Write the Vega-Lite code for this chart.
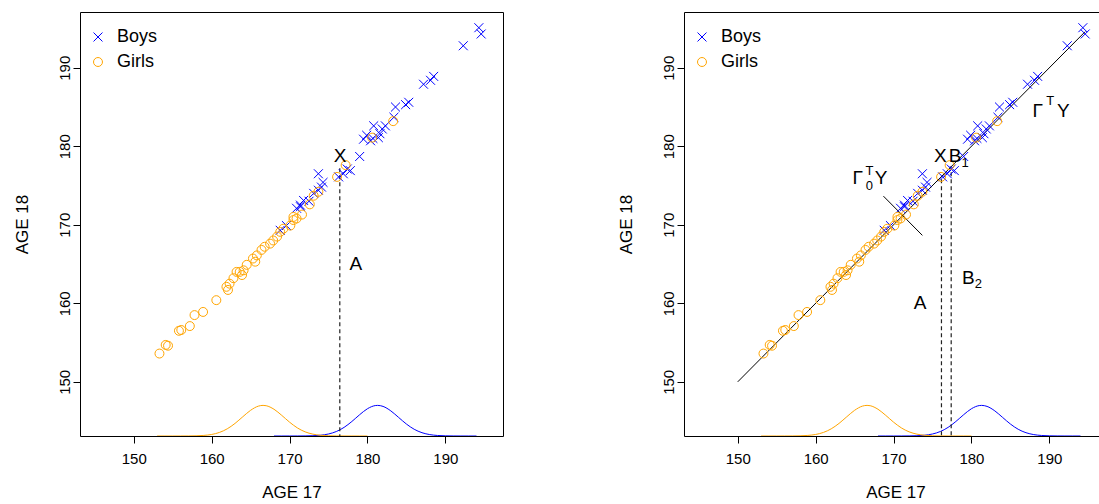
{
  "$schema": "https://vega.github.io/schema/vega-lite/v6.json",
  "background": "white",
  "padding": {"left": 12, "top": 11, "right": 0, "bottom": 0},
  "config": {
    "font": "Liberation Sans",
    "view": {"stroke": "black", "strokeWidth": 1},
    "axis": {"grid": false, "domain": false, "tickColor": "black", "tickSize": 7, "tickWidth": 1,
      "labelFont": "Liberation Sans", "labelFontSize": 15, "labelColor": "black",
      "titleFont": "Liberation Sans", "titleFontSize": 17, "titleFontWeight": "normal", "titleColor": "black"},
    "axisX": {"labelPadding": 8, "titlePadding": 18},
    "axisY": {"labelAngle": -90, "labelAlign": "center", "labelBaseline": "alphabetic", "labelPadding": 4, "titlePadding": 26},
    "legend": {"orient": "none", "legendX": 9, "legendY": 16, "title": null, "labelFont": "Liberation Sans", "labelFontSize": 18, "labelColor": "black",
      "symbolSize": 80, "symbolStrokeWidth": 1, "rowPadding": 7, "labelOffset": 10, "padding": 0}
  },
  "datasets": {
    "pts": [
      {"x": 194.3, "y": 195.1, "sex": "Boys"}, {"x": 194.6, "y": 194.3, "sex": "Boys"}, {"x": 192.3, "y": 192.8, "sex": "Boys"},
      {"x": 188.5, "y": 188.9, "sex": "Boys"}, {"x": 188.1, "y": 188.4, "sex": "Boys"}, {"x": 187.2, "y": 187.9, "sex": "Boys"},
      {"x": 185.3, "y": 185.6, "sex": "Boys"}, {"x": 184.9, "y": 185.3, "sex": "Boys"}, {"x": 183.6, "y": 185.0, "sex": "Boys"},
      {"x": 183.4, "y": 183.7, "sex": "Boys"}, {"x": 182.3, "y": 182.6, "sex": "Boys"}, {"x": 181.9, "y": 182.2, "sex": "Boys"},
      {"x": 180.8, "y": 182.6, "sex": "Boys"}, {"x": 181.6, "y": 181.6, "sex": "Boys"}, {"x": 181.4, "y": 181.1, "sex": "Boys"},
      {"x": 180.4, "y": 180.7, "sex": "Boys"}, {"x": 179.9, "y": 181.4, "sex": "Boys"}, {"x": 179.5, "y": 180.9, "sex": "Boys"},
      {"x": 180.7, "y": 181.0, "sex": "Boys"}, {"x": 179.0, "y": 178.7, "sex": "Boys"}, {"x": 177.4, "y": 177.1, "sex": "Boys"},
      {"x": 177.8, "y": 176.9, "sex": "Boys"}, {"x": 176.9, "y": 176.5, "sex": "Boys"}, {"x": 176.3, "y": 176.1, "sex": "Boys"},
      {"x": 173.7, "y": 176.5, "sex": "Boys"}, {"x": 174.3, "y": 175.4, "sex": "Boys"}, {"x": 174.1, "y": 174.8, "sex": "Boys"},
      {"x": 173.7, "y": 174.4, "sex": "Boys"}, {"x": 173.1, "y": 174.0, "sex": "Boys"}, {"x": 172.5, "y": 173.0, "sex": "Boys"},
      {"x": 171.8, "y": 173.1, "sex": "Boys"}, {"x": 171.4, "y": 172.5, "sex": "Boys"}, {"x": 170.9, "y": 172.1, "sex": "Boys"},
      {"x": 171.4, "y": 172.3, "sex": "Boys"}, {"x": 169.6, "y": 169.9, "sex": "Boys"}, {"x": 168.8, "y": 169.3, "sex": "Boys"},
      {"x": 183.3, "y": 183.2, "sex": "Girls"}, {"x": 180.6, "y": 181.1, "sex": "Girls"}, {"x": 177.2, "y": 177.6, "sex": "Girls"},
      {"x": 176.1, "y": 176.1, "sex": "Girls"}, {"x": 173.7, "y": 174.2, "sex": "Girls"}, {"x": 173.1, "y": 173.7, "sex": "Girls"},
      {"x": 172.6, "y": 172.6, "sex": "Girls"}, {"x": 171.6, "y": 171.3, "sex": "Girls"}, {"x": 170.5, "y": 171.0, "sex": "Girls"},
      {"x": 170.9, "y": 170.8, "sex": "Girls"}, {"x": 170.5, "y": 170.6, "sex": "Girls"}, {"x": 170.1, "y": 169.9, "sex": "Girls"},
      {"x": 169.2, "y": 169.5, "sex": "Girls"}, {"x": 168.8, "y": 169.1, "sex": "Girls"}, {"x": 168.4, "y": 168.5, "sex": "Girls"},
      {"x": 167.9, "y": 168.0, "sex": "Girls"}, {"x": 167.5, "y": 167.6, "sex": "Girls"}, {"x": 166.8, "y": 167.2, "sex": "Girls"},
      {"x": 166.4, "y": 166.8, "sex": "Girls"}, {"x": 165.8, "y": 166.1, "sex": "Girls"}, {"x": 165.3, "y": 165.7, "sex": "Girls"},
      {"x": 165.6, "y": 165.3, "sex": "Girls"}, {"x": 164.5, "y": 164.9, "sex": "Girls"}, {"x": 164.1, "y": 164.2, "sex": "Girls"},
      {"x": 163.6, "y": 164.0, "sex": "Girls"}, {"x": 163.2, "y": 164.0, "sex": "Girls"}, {"x": 163.9, "y": 163.6, "sex": "Girls"},
      {"x": 162.8, "y": 163.2, "sex": "Girls"}, {"x": 162.3, "y": 162.5, "sex": "Girls"}, {"x": 161.9, "y": 162.1, "sex": "Girls"},
      {"x": 162.1, "y": 161.7, "sex": "Girls"}, {"x": 160.6, "y": 160.4, "sex": "Girls"}, {"x": 158.9, "y": 158.9, "sex": "Girls"},
      {"x": 157.8, "y": 158.5, "sex": "Girls"}, {"x": 157.2, "y": 157.1, "sex": "Girls"}, {"x": 156.1, "y": 156.6, "sex": "Girls"},
      {"x": 155.8, "y": 156.5, "sex": "Girls"}, {"x": 154.4, "y": 154.6, "sex": "Girls"}, {"x": 154.1, "y": 154.7, "sex": "Girls"},
      {"x": 153.3, "y": 153.6, "sex": "Girls"}
    ],
    "dens": [
      {"x": 153, "y": 143.1, "sex": "Girls"}, {"x": 154, "y": 143.1, "sex": "Girls"}, {"x": 155, "y": 143.1, "sex": "Girls"},
      {"x": 156, "y": 143.102, "sex": "Girls"}, {"x": 157, "y": 143.107, "sex": "Girls"}, {"x": 158, "y": 143.125, "sex": "Girls"},
      {"x": 159, "y": 143.174, "sex": "Girls"}, {"x": 160, "y": 143.296, "sex": "Girls"}, {"x": 161, "y": 143.554, "sex": "Girls"},
      {"x": 162, "y": 144.014, "sex": "Girls"}, {"x": 163, "y": 144.703, "sex": "Girls"}, {"x": 164, "y": 145.553, "sex": "Girls"},
      {"x": 165, "y": 146.372, "sex": "Girls"}, {"x": 166, "y": 146.905, "sex": "Girls"}, {"x": 166.6, "y": 147.0, "sex": "Girls"},
      {"x": 167, "y": 146.957, "sex": "Girls"}, {"x": 168, "y": 146.509, "sex": "Girls"}, {"x": 169, "y": 145.728, "sex": "Girls"},
      {"x": 170, "y": 144.865, "sex": "Girls"}, {"x": 171, "y": 144.134, "sex": "Girls"}, {"x": 172, "y": 143.628, "sex": "Girls"},
      {"x": 173, "y": 143.335, "sex": "Girls"}, {"x": 174, "y": 143.191, "sex": "Girls"}, {"x": 175, "y": 143.131, "sex": "Girls"},
      {"x": 176, "y": 143.109, "sex": "Girls"}, {"x": 177, "y": 143.102, "sex": "Girls"}, {"x": 178, "y": 143.1, "sex": "Girls"},
      {"x": 179, "y": 143.1, "sex": "Girls"}, {"x": 180, "y": 143.1, "sex": "Girls"},
      {"x": 168, "y": 143.1, "sex": "Boys"}, {"x": 169, "y": 143.1, "sex": "Boys"}, {"x": 170, "y": 143.101, "sex": "Boys"},
      {"x": 171, "y": 143.103, "sex": "Boys"}, {"x": 172, "y": 143.11, "sex": "Boys"}, {"x": 173, "y": 143.135, "sex": "Boys"},
      {"x": 174, "y": 143.201, "sex": "Boys"}, {"x": 175, "y": 143.356, "sex": "Boys"}, {"x": 176, "y": 143.668, "sex": "Boys"},
      {"x": 177, "y": 144.197, "sex": "Boys"}, {"x": 178, "y": 144.948, "sex": "Boys"}, {"x": 179, "y": 145.813, "sex": "Boys"},
      {"x": 180, "y": 146.573, "sex": "Boys"}, {"x": 181, "y": 146.976, "sex": "Boys"}, {"x": 181.3, "y": 147.0, "sex": "Boys"},
      {"x": 182, "y": 146.871, "sex": "Boys"}, {"x": 183, "y": 146.298, "sex": "Boys"}, {"x": 184, "y": 145.465, "sex": "Boys"},
      {"x": 185, "y": 144.625, "sex": "Boys"}, {"x": 186, "y": 143.957, "sex": "Boys"}, {"x": 187, "y": 143.52, "sex": "Boys"},
      {"x": 188, "y": 143.279, "sex": "Boys"}, {"x": 189, "y": 143.167, "sex": "Boys"}, {"x": 190, "y": 143.122, "sex": "Boys"},
      {"x": 191, "y": 143.106, "sex": "Boys"}, {"x": 192, "y": 143.101, "sex": "Boys"}, {"x": 193, "y": 143.1, "sex": "Boys"},
      {"x": 194, "y": 143.1, "sex": "Boys"}
    ],
    "leftRule": [{"x": 176.45, "y": 177.2, "y2": 143.1}],
    "leftText": [{"x": 176.5, "y": 178.8, "t": "X"}, {"x": 178.5, "y": 165.0, "t": "A"}],
    "rightRule": [{"x": 176.15, "y": 175.8, "y2": 143.1}, {"x": 177.4, "y": 176.7, "y2": 143.1}],
    "rightLines": [{"x": 150, "y": 150, "x2": 194.6, "y2": 194.6}, {"x": 168.7, "y": 173.65, "x2": 173.7, "y2": 168.65}],
    "rightText": [
      {"x": 176.0, "y": 178.7, "t": "X"}, {"x": 177.9, "y": 178.7, "t": "B"},
      {"x": 188.5, "y": 184.5, "t": "Γ"}, {"x": 191.8, "y": 184.5, "t": "Y"},
      {"x": 165.4, "y": 175.9, "t": "Γ"}, {"x": 168.4, "y": 175.9, "t": "Y"},
      {"x": 173.4, "y": 160.0, "t": "A"}, {"x": 179.6, "y": 163.2, "t": "B"}
    ],
    "rightSmall": [
      {"x": 179.2, "y": 177.9, "t": "1"}, {"x": 190.1, "y": 185.8, "t": "T"},
      {"x": 166.9, "y": 176.8, "t": "T"}, {"x": 166.9, "y": 175.0, "t": "0"},
      {"x": 180.9, "y": 162.5, "t": "2"}
    ]
  },
  "resolve": {"scale": {"color": "independent", "shape": "independent"}, "legend": {"color": "independent", "shape": "independent"}},
  "spacing": 112,
  "hconcat": [
    {
      "width": 423, "height": 424,
      "encoding": {
        "x": {"field": "x", "type": "quantitative", "title": "AGE 17", "scale": {"domain": [143.1, 197.4], "nice": false, "zero": false}, "axis": {"values": [150, 160, 170, 180, 190]}},
        "y": {"field": "y", "type": "quantitative", "title": "AGE 18", "scale": {"domain": [143.1, 197.1], "nice": false, "zero": false}, "axis": {"values": [150, 160, 170, 180, 190]}}
      },
      "layer": [
        {"data": {"name": "dens"}, "transform": [{"filter": "datum.sex == 'Boys'"}], "mark": {"type": "line", "color": "#0000FF", "strokeWidth": 1, "interpolate": "monotone", "clip": true}, "encoding": {}},
        {"data": {"name": "dens"}, "transform": [{"filter": "datum.sex == 'Girls'"}], "mark": {"type": "line", "color": "#FFA500", "strokeWidth": 1, "interpolate": "monotone", "clip": true}, "encoding": {}},
        {"data": {"name": "leftRule"}, "mark": {"type": "rule", "color": "#222222", "strokeWidth": 1.2, "strokeDash": [4, 3]}, "encoding": {"y2": {"field": "y2"}}},
        {"data": {"name": "pts"}, "mark": {"type": "point", "filled": false, "strokeWidth": 1, "size": 80, "opacity": 1},
          "encoding": {
            "color": {"field": "sex", "type": "nominal", "scale": {"domain": ["Boys", "Girls"], "range": ["#0000FF", "#FFA500"]}},
            "shape": {"field": "sex", "type": "nominal", "scale": {"domain": ["Boys", "Girls"], "range": ["M-1,-1L1,1M-1,1L1,-1", "circle"]}}
          }},
        {"data": {"name": "leftText"}, "mark": {"type": "text", "font": "Liberation Sans", "fontSize": 19, "color": "black", "align": "center", "baseline": "middle"}, "encoding": {"text": {"field": "t"}}}
      ]
    },
    {
      "width": 423, "height": 424,
      "encoding": {
        "x": {"field": "x", "type": "quantitative", "title": "AGE 17", "scale": {"domain": [143.1, 197.4], "nice": false, "zero": false}, "axis": {"values": [150, 160, 170, 180, 190]}},
        "y": {"field": "y", "type": "quantitative", "title": "AGE 18", "scale": {"domain": [143.1, 197.1], "nice": false, "zero": false}, "axis": {"values": [150, 160, 170, 180, 190]}}
      },
      "layer": [
        {"data": {"name": "dens"}, "transform": [{"filter": "datum.sex == 'Boys'"}], "mark": {"type": "line", "color": "#0000FF", "strokeWidth": 1, "interpolate": "monotone", "clip": true}, "encoding": {}},
        {"data": {"name": "dens"}, "transform": [{"filter": "datum.sex == 'Girls'"}], "mark": {"type": "line", "color": "#FFA500", "strokeWidth": 1, "interpolate": "monotone", "clip": true}, "encoding": {}},
        {"data": {"name": "rightRule"}, "mark": {"type": "rule", "color": "#222222", "strokeWidth": 1.2, "strokeDash": [4, 3]}, "encoding": {"y2": {"field": "y2"}}},
        {"data": {"name": "rightLines"}, "mark": {"type": "rule", "color": "black", "strokeWidth": 1}, "encoding": {"x2": {"field": "x2"}, "y2": {"field": "y2"}}},
        {"data": {"name": "pts"}, "mark": {"type": "point", "filled": false, "strokeWidth": 1, "size": 80, "opacity": 1},
          "encoding": {
            "color": {"field": "sex", "type": "nominal", "scale": {"domain": ["Boys", "Girls"], "range": ["#0000FF", "#FFA500"]}},
            "shape": {"field": "sex", "type": "nominal", "scale": {"domain": ["Boys", "Girls"], "range": ["M-1,-1L1,1M-1,1L1,-1", "circle"]}}
          }},
        {"data": {"name": "rightText"}, "mark": {"type": "text", "font": "Liberation Sans", "fontSize": 19, "color": "black", "align": "center", "baseline": "middle"}, "encoding": {"text": {"field": "t"}}},
        {"data": {"name": "rightSmall"}, "mark": {"type": "text", "font": "Liberation Sans", "fontSize": 13, "color": "black", "align": "center", "baseline": "middle"}, "encoding": {"text": {"field": "t"}}}
      ]
    }
  ]
}
